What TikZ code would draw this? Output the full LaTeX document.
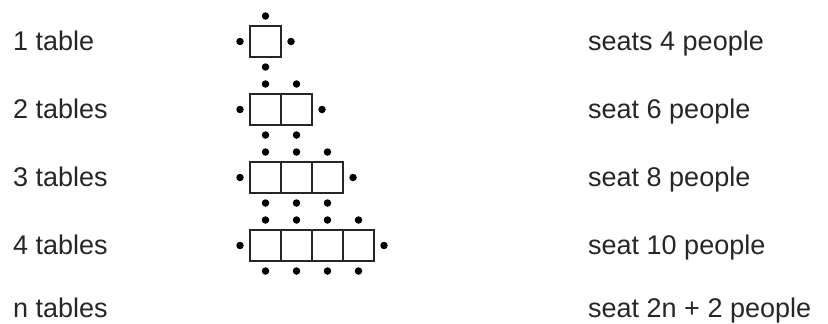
\documentclass[tikz,border=0pt]{standalone}
\usepackage{fontspec}
\setmainfont{Liberation Sans}
\begin{document}
\begin{tikzpicture}[x=1pt,y=-1pt,
  lbl/.style={anchor=base west,inner sep=0pt,font=\fontsize{27}{31}\selectfont,text=black!85},
  tbl/.style={draw=black!85,line width=1.7pt,minimum size=31pt,inner sep=0pt,outer sep=0pt},
  seat/.style={circle,fill=black,minimum size=7.5pt,inner sep=0pt}]
\useasboundingbox (0,0) rectangle (828,324);
% labels
\node[lbl] (l1) at (13,50) {1 table};
\node[lbl] (l2) at (13,118) {2 tables};
\node[lbl] (l3) at (13,186.5) {3 tables};
\node[lbl] (l4) at (13,254) {4 tables};
\node[lbl] (ln) at (13,317.5) {n tables};
\node[lbl] (r1) at (588,50) {seats 4 people};
\node[lbl] (r2) at (588,118) {seat 6 people};
\node[lbl] (r3) at (588,186.5) {seat 8 people};
\node[lbl] (r4) at (588,254) {seat 10 people};
\node[lbl] (rn) at (588,317.5) {seat 2n + 2 people};
% tables
\foreach \n/\yc in {1/41.5,2/109.5,3/177.5,4/245.5}{
  \foreach \i in {1,...,\n}{
    \node[tbl] (t\n-\i) at ({250+31*\i-15.5},\yc) {};
    \node[seat] (st\n-\i) at ({250+31*\i-15.5},\yc-25.5) {};
    \node[seat] (sb\n-\i) at ({250+31*\i-15.5},\yc+25.5) {};
  }
  \node[seat] (sl\n) at (240,\yc) {};
  \node[seat] (sr\n) at ({250+31*\n+10},\yc) {};
}
\end{tikzpicture}
\end{document}
